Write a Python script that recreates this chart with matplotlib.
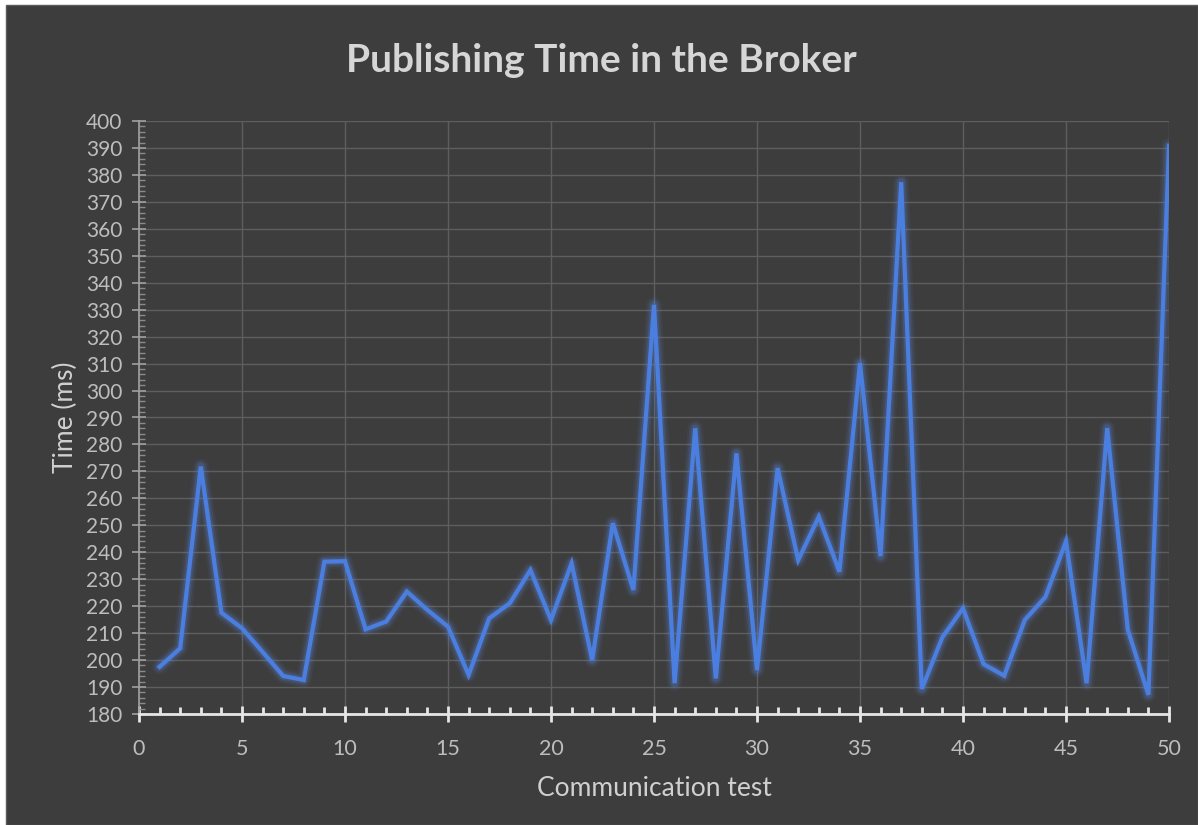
import matplotlib
matplotlib.use("Agg")
import matplotlib.pyplot as plt
from matplotlib.ticker import MultipleLocator
from matplotlib.patches import Rectangle

tests = list(range(1, 51))
times = [197.5, 204.4, 271.8, 217.6, 211.8, 203.0, 194.1, 192.6, 236.5, 236.7,
         211.4, 214.3, 225.4, 218.6, 212.4, 194.5, 215.5, 221.1, 233.4, 214.9,
         235.9, 200.0, 250.8, 226.0, 331.8, 191.4, 286.0, 193.2, 276.7, 196.3,
         271.2, 237.1, 253.2, 232.8, 310.2, 238.6, 377.3, 189.3, 208.5, 219.2,
         198.5, 194.2, 214.9, 223.4, 244.1, 191.4, 286.1, 211.3, 187.1, 390.8]

title = "Publishing Time in the Broker"
xlabel = "Communication test"
ylabel = "Time (ms)"

plt.rcParams['font.family'] = ['Lato', 'DejaVu Sans']

BG = "#3d3d3d"
fig = plt.figure(figsize=(11.98, 8.25), dpi=100, facecolor="white")
fig.patches.append(Rectangle((6/1198, 0), 1 - 6/1198, 1 - 5/825, transform=fig.transFigure,
                             facecolor=BG, edgecolor="#5a5a5a", linewidth=1.0, zorder=-1))
ax = fig.add_axes([139/1198, 1 - 714/825, (1169 - 139)/1198, (714 - 121)/825])
ax.set_facecolor(BG)

# glow
for lw, a in [(11, 0.07), (8, 0.11), (5.5, 0.18)]:
    ax.plot(tests, times, color="#5b8cf0", linewidth=lw, alpha=a, solid_joinstyle="round",
            solid_capstyle="round", zorder=3)
ax.plot(tests, times, color="#4a7fe0", linewidth=3.0, solid_joinstyle="miter", zorder=4)

ax.set_xlim(0, 50)
ax.set_ylim(180, 400)
ax.xaxis.set_major_locator(MultipleLocator(5))
ax.xaxis.set_minor_locator(MultipleLocator(1))
ax.yaxis.set_major_locator(MultipleLocator(10))
ax.yaxis.set_minor_locator(MultipleLocator(2))
ax.grid(True, which="major", color="#5e5e5e", linewidth=1.0, zorder=0)

for s in ["top", "right"]:
    ax.spines[s].set_visible(False)
ax.spines["bottom"].set_color("#e6e6e6")
ax.spines["bottom"].set_linewidth(2.0)
ax.spines["left"].set_color("#a0a0a0")
ax.spines["left"].set_linewidth(1.2)

ax.tick_params(axis="x", which="major", direction="inout", length=12, width=2, color="#e6e6e6",
               labelcolor="#bdbdbd", labelsize=15.5, pad=12)
ax.tick_params(axis="x", which="minor", direction="in", length=5, width=2, color="#e6e6e6")
ax.tick_params(axis="y", which="major", direction="inout", length=10, width=1.2, color="#a0a0a0",
               labelcolor="#bdbdbd", labelsize=15, pad=7)
ax.tick_params(axis="y", which="minor", direction="in", length=4, width=1, color="#8a8a8a")

ax.set_xlabel(xlabel, color="#d0d0d0", fontsize=19, labelpad=12)
ax.set_ylabel(ylabel, color="#d0d0d0", fontsize=19, labelpad=6)
fig.text(601/1198, 1 - 60/825, title, color="#d6d6d6", fontsize=28, fontweight="bold",
         ha="center", va="center")

fig.savefig("out.png", dpi=100, facecolor=fig.get_facecolor())
